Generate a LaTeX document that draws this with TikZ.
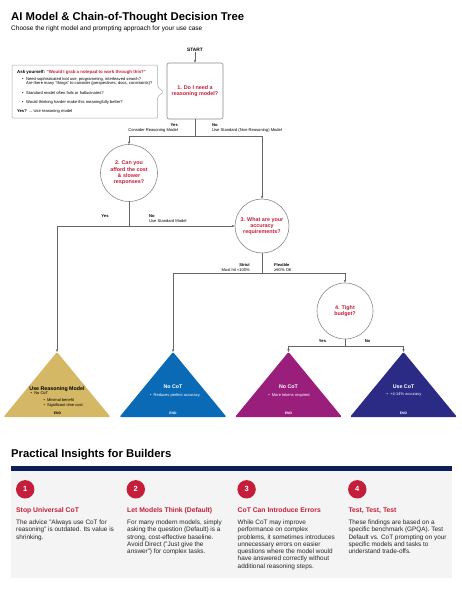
\documentclass[tikz,border=0pt]{standalone}
\usepackage{fontspec}
\setmainfont{Liberation Sans}
\usetikzlibrary{arrows.meta}
\definecolor{crim}{HTML}{C41E3A}
\definecolor{lgray}{HTML}{666666}
\definecolor{bgray}{HTML}{8A8A8A}
\definecolor{cgray}{HTML}{ABABAB}
\definecolor{goldc}{HTML}{D4B866}
\definecolor{bluec}{HTML}{0A6AB6}
\definecolor{magc}{HTML}{9A1F7D}
\definecolor{navyc}{HTML}{2B2B85}
\definecolor{rulec}{HTML}{0C1E5B}
\definecolor{panelc}{HTML}{F4F4F4}
\definecolor{bodyc}{HTML}{262626}
\newcommand{\fsz}[2]{\fontsize{#1}{#2}\selectfont}
\begin{document}
\begin{tikzpicture}[x=1pt,y=-1pt,
  conn/.style={draw=lgray,line width=0.6pt},
  arr/.style={conn,-{Stealth[length=3pt,width=2.4pt]}},
  qnode/.style={draw=bgray,line width=0.6pt,fill=white,text=crim,font=\bfseries\fsz{5.4}{6.4},align=center,inner sep=0},
  qcirc/.style={qnode,circle,minimum size=#1},
  lbl/.style={font=\fsz{4.1}{4.7},inner sep=0},
  cal/.style={font=\fsz{4.1}{4.7},inner sep=0,anchor=base west},
  ttitle/.style={font=\bfseries\fsz{5.3}{6},inner sep=0},
  tbul/.style={font=\fsz{4}{4.6},inner sep=0},
  tend/.style={font=\bfseries\fsz{3.4}{4},inner sep=0},
  numc/.style={circle,fill=crim,text=white,font=\bfseries\fsz{7.5}{8},minimum size=18.4,inner sep=0},
  chead/.style={anchor=base west,text=crim,font=\bfseries\fsz{6.8}{8},inner sep=0},
  cbody/.style={anchor=north west,text=bodyc,font=\fsz{6.4}{7.3},align=left,inner sep=0},
]
\fill[white] (0,0) rectangle (461,600);
\path[use as bounding box] (0,0) rectangle (461,600);

% titles
\node[anchor=base west,inner sep=0,font=\bfseries\fsz{11.3}{13}] (title) at (11,20) {AI Model \& Chain-of-Thought Decision Tree};
\node[anchor=base west,inner sep=0,font=\fsz{6.5}{8}] (sub) at (11,30) {Choose the right model and prompting approach for your use case};

% callout
\draw[cgray,line width=0.5pt,fill=white,rounded corners=1.2pt]
  (12,65) -- (157.7,65) -- (157.7,86.7) -- (163.3,91.7) -- (157.7,96.7) -- (157.7,118) -- (12,118) -- cycle;
\node[cal,font=\bfseries\fsz{4.4}{5}] (k1) at (17,73.5) {Ask yourself: \textcolor{crim}{"Would I grab a notepad to work through this?"}};
\node[cal] (k2b) at (22,80.4) {•};
\node[cal] (k2) at (26,80.4) {Need sophisticated tool use, programming, interleaved search?};
\node[cal] (k3) at (26,84.4) {Are there many "things" to consider (perspectives, docs, constraints)?};
\node[cal] (k4b) at (22,94.1) {•};
\node[cal] (k4) at (26,94.1) {Standard model often fails or hallucinates?};
\node[cal] (k5b) at (22,103.4) {•};
\node[cal] (k5) at (26,103.4) {Would thinking harder make this meaningfully better?};
\node[cal] (k6) at (17,112.7) {\textbf{Yes?} → Use reasoning model};

% decision nodes
\node[inner sep=0,font=\bfseries\fsz{4.8}{5}] (start) at (195,50) {START};
\node[qnode,rounded corners=2pt,minimum width=56,minimum height=56] (b1) at (195,91) {1. Do I need a\\reasoning model?};
\node[qcirc=57] (c2) at (129,173) {2. Can you\\afford the cost\\\& slower\\responses?};
\node[qcirc=54] (c3) at (262,226) {3. What are your\\accuracy\\requirements?};
\node[qcirc=56] (c4) at (345,311) {4. Tight\\budget?};

% terminal triangles
\coordinate (t1) at (57,352);
\coordinate (t2) at (173,352);
\coordinate (t3) at (288.5,352);
\coordinate (t4) at (403.5,352);
\fill[goldc,rounded corners=1.2pt] (t1) -- ++(53.5,65) -- ++(-107,0) -- cycle;
\fill[bluec,rounded corners=1.2pt] (t2) -- ++(53.5,65) -- ++(-107,0) -- cycle;
\fill[magc,rounded corners=1.2pt] (t3) -- ++(53.5,65) -- ++(-107,0) -- cycle;
\fill[navyc,rounded corners=1.2pt] (t4) -- ++(53.5,65) -- ++(-107,0) -- cycle;

\node[ttitle] (r1) at (57,388.7) {Use Reasoning Model};
\node[tbul,anchor=base west] (r1a) at (30.5,394.1) {•\hspace{2.2pt}No CoT};
\node[tbul,anchor=base west] (r1b) at (43.3,401.4) {•\hspace{2.2pt}Minimal benefit};
\node[tbul,anchor=base west] (r1c) at (43.3,406.1) {•\hspace{2.2pt}Significant time cost};
\node[tend] (e1) at (57.5,413.3) {END};

\node[ttitle,text=white] (r2) at (173,386.7) {No CoT};
\node[tbul,text=white] (r2a) at (175,395) {•\hspace{2.2pt}Reduces perfect accuracy};
\node[tend,text=white] (e2) at (173,413.3) {END};

\node[ttitle,text=white] (r3) at (288.5,386.7) {No CoT};
\node[tbul,text=white] (r3a) at (289,395) {•\hspace{2.2pt}More tokens required};
\node[tend,text=white] (e3) at (288.5,413.3) {END};

\node[ttitle,text=white] (r4) at (403.5,386.7) {Use CoT};
\node[tbul,text=white] (r4a) at (404,395) {•\hspace{2.2pt}+4-14\% accuracy};
\node[tend,text=white] (e4) at (403.5,413.3) {END};

% connectors
\draw[arr] (start.south) -- (b1.north);
\coordinate (j1) at (195,136);
\draw[conn] (b1.south) -- (j1);
\draw[arr] (j1) -| (c2.north);
\draw[arr] (j1) -| (c3.north);
\coordinate (j2) at (129,226);
\draw[conn] (c2.south) -- (j2);
\draw[arr] (j2) -- (c3.west);
\draw[arr] (j2) -| (t1);
\coordinate (j3) at (262,273);
\draw[conn] (c3.south) -- (j3);
\draw[arr] (j3) -| (t2);
\draw[arr] (j3) -| (c4.north);
\coordinate (j4) at (345,346);
\draw[conn] (c4.south) -- (j4);
\draw[arr] (j4) -| (t3);
\draw[arr] (j4) -| (t4);

% connector labels
\node[lbl,anchor=east,align=right] (l1y) at (178,128) {\textbf{Yes}\\Consider Reasoning Model};
\node[lbl,anchor=west,align=left] (l1n) at (212,128) {\textbf{No}\\Use Standard (Non-Reasoning) Model};
\node[lbl] (l2y) at (105,216.3) {\textbf{Yes}};
\node[lbl,anchor=west,align=left] (l2n) at (149,218.7) {\textbf{No}\\Use Standard Model};
\node[lbl,anchor=east,align=right] (l3s) at (250,267.7) {\textbf{Strict}\\Must hit ≈100\%};
\node[lbl,anchor=west,align=left] (l3f) at (274,267.7) {\textbf{Flexible}\\≥90\% OK};
\node[lbl] (l4y) at (322.5,341) {\textbf{Yes}};
\node[lbl] (l4n) at (367.5,341) {\textbf{No}};

% practical insights
\node[anchor=base west,inner sep=0,font=\bfseries\fsz{11.3}{13}] (ph) at (11,457) {Practical Insights for Builders};
\fill[rulec] (11,466.3) rectangle (452,471);
\fill[panelc] (11,471) rectangle (452,578);

\node[numc] (n1) at (25.2,489.3) {1};
\node[numc] (n2) at (135.8,489.3) {2};
\node[numc] (n3) at (246.6,489.3) {3};
\node[numc] (n4) at (357.3,489.3) {4};

\node[chead] (h1) at (16,512.5) {Stop Universal CoT};
\node[chead] (h2) at (127,512.5) {Let Models Think (Default)};
\node[chead] (h3) at (237.5,512.5) {CoT Can Introduce Errors};
\node[chead] (h4) at (348.3,512.5) {Test, Test, Test};

\node[cbody] (d1) at (16,519.6) {The advice "Always use CoT for\\reasoning" is outdated. Its value is\\shrinking.};
\node[cbody] (d2) at (127,519.6) {For many modern models, simply\\asking the question (Default) is a\\strong, cost-effective baseline.\\Avoid Direct ("Just give the\\answer") for complex tasks.};
\node[cbody] (d3) at (237.5,519.6) {While CoT may improve\\performance on complex\\problems, it sometimes introduces\\unnecessary errors on easier\\questions where the model would\\have answered correctly without\\additional reasoning steps.};
\node[cbody] (d4) at (348.3,519.6) {These findings are based on a\\specific benchmark (GPQA). Test\\Default vs. CoT prompting on your\\specific models and tasks to\\understand trade-offs.};
\end{tikzpicture}
\end{document}
